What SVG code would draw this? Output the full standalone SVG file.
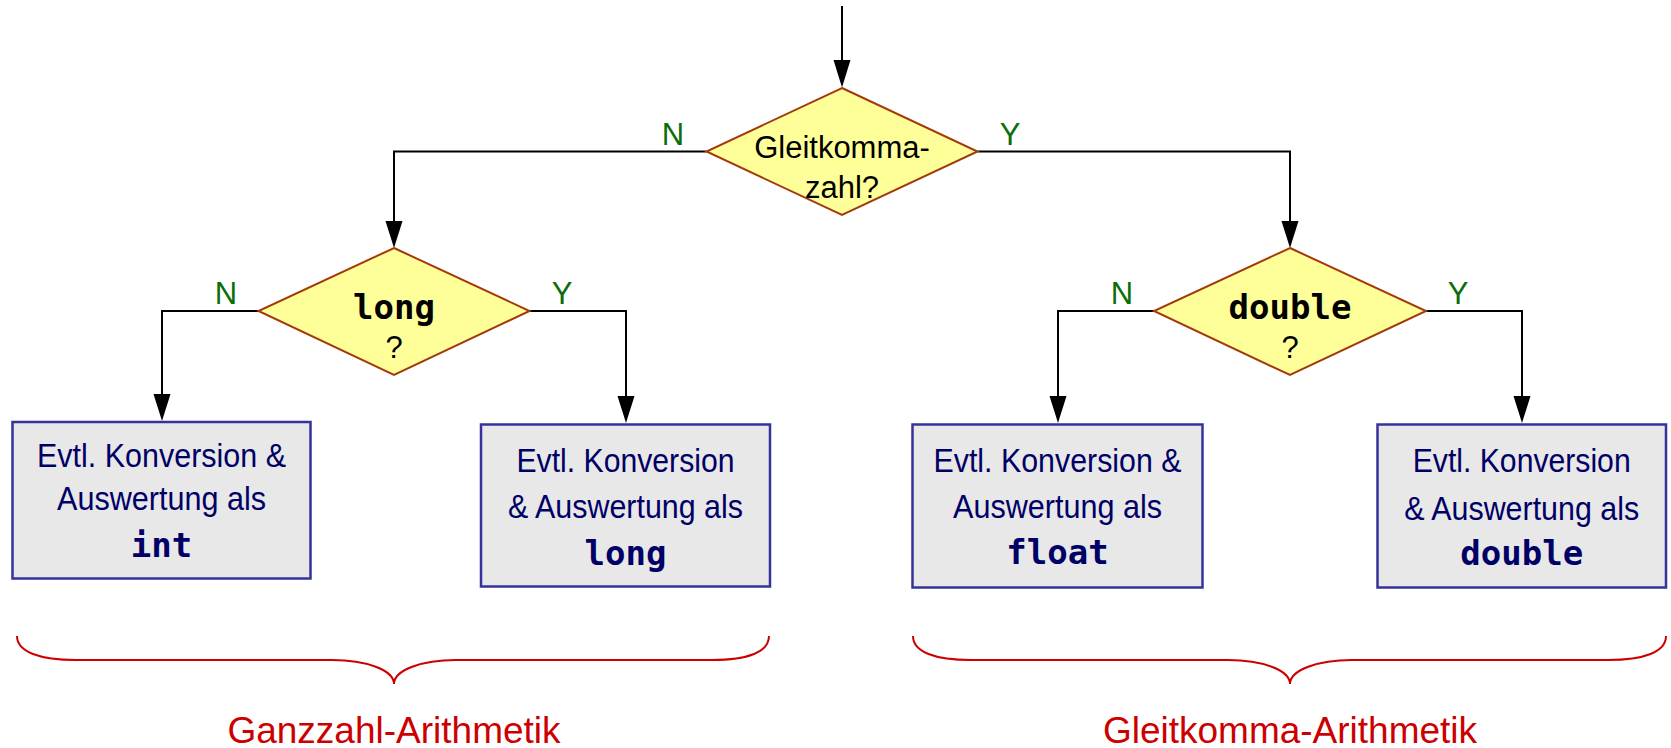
<svg xmlns="http://www.w3.org/2000/svg" width="1671" height="748" viewBox="0 0 1671 748">
<defs>
<style>
.conn{fill:none;stroke:#000;stroke-width:2}
.dia{fill:#ffff99;stroke:#a33a0a;stroke-width:2}
.box{fill:#e8e8e8;stroke:#333399;stroke-width:2.5}
.t{font-family:"Liberation Sans",Arial,sans-serif;text-anchor:middle}
.dt{font-size:31px;fill:#000}
.bt{font-size:32.5px;fill:#000066}
.mono{font-family:"DejaVu Sans Mono","Liberation Mono",monospace;font-weight:bold;font-size:34px;text-anchor:middle}
.lbl{font-family:"Liberation Sans",Arial,sans-serif;font-size:31px;fill:#0a6e0a;text-anchor:middle}
.brace{fill:none;stroke:#cc0000;stroke-width:2}
.red{font-family:"Liberation Sans",Arial,sans-serif;font-size:37px;fill:#cc0000;text-anchor:middle}
</style>
</defs>

<g id="connectors">
<line class="conn" x1="842" y1="6" x2="842" y2="60"/>
<path d="M842,60 l-8.5,0 8.5,27.5 8.5,-27.5 z" fill="#000"/>
<path class="conn" d="M706.5,151.5 H394 V221"/>
<path d="M394,221 l-8.5,0 8.5,27 8.5,-27 z" fill="#000"/>
<path class="conn" d="M977.5,151.5 H1290 V221"/>
<path d="M1290,221 l-8.5,0 8.5,27 8.5,-27 z" fill="#000"/>
<path class="conn" d="M258.5,311 H162 V394"/>
<path d="M162,394 l-8.5,0 8.5,27 8.5,-27 z" fill="#000"/>
<path class="conn" d="M529.5,311 H626 V396"/>
<path d="M626,396 l-8.5,0 8.5,27 8.5,-27 z" fill="#000"/>
<path class="conn" d="M1154,311 H1058 V396"/>
<path d="M1058,396 l-8.5,0 8.5,27 8.5,-27 z" fill="#000"/>
<path class="conn" d="M1426,311 H1522 V396"/>
<path d="M1522,396 l-8.5,0 8.5,27 8.5,-27 z" fill="#000"/>
<text class="lbl" x="673" y="145">N</text>
<text class="lbl" x="1010" y="145">Y</text>
<text class="lbl" x="226" y="304">N</text>
<text class="lbl" x="562" y="304">Y</text>
<text class="lbl" x="1122" y="304">N</text>
<text class="lbl" x="1458" y="304">Y</text>
</g>

<g id="decision-gleitkomma">
<polygon class="dia" points="842,88 977.5,151.5 842,215 706.5,151.5"/>
<text class="t dt" x="842" y="158">Gleitkomma-</text>
<text class="t dt" x="842" y="198">zahl?</text>
</g>

<g id="decision-long">
<polygon class="dia" points="394,248 529.5,311 394,375 258.5,311"/>
<text class="mono" x="394" y="319" fill="#000">long</text>
<text class="t dt" x="394" y="358">?</text>
</g>

<g id="decision-double">
<polygon class="dia" points="1290,248 1426,311 1290,375 1154,311"/>
<text class="mono" x="1290" y="319" fill="#000">double</text>
<text class="t dt" x="1290" y="358">?</text>
</g>

<g id="box-int">
<rect class="box" x="12.5" y="422" width="298" height="156.5"/>
<text class="t bt" x="161.5" y="467" textLength="249" lengthAdjust="spacingAndGlyphs">Evtl. Konversion &amp;</text>
<text class="t bt" x="161.5" y="510" textLength="209" lengthAdjust="spacingAndGlyphs">Auswertung als</text>
<text class="mono" x="161.5" y="557" fill="#000066">int</text>
</g>

<g id="box-long">
<rect class="box" x="481" y="424.5" width="289" height="162"/>
<text class="t bt" x="625.5" y="472" textLength="218" lengthAdjust="spacingAndGlyphs">Evtl. Konversion</text>
<text class="t bt" x="625.5" y="518" textLength="235" lengthAdjust="spacingAndGlyphs">&amp; Auswertung als</text>
<text class="mono" x="625.5" y="565" fill="#000066">long</text>
</g>

<g id="box-float">
<rect class="box" x="912.5" y="424.5" width="290" height="163"/>
<text class="t bt" x="1057.5" y="472" textLength="248" lengthAdjust="spacingAndGlyphs">Evtl. Konversion &amp;</text>
<text class="t bt" x="1057.5" y="518" textLength="209" lengthAdjust="spacingAndGlyphs">Auswertung als</text>
<text class="mono" x="1057.5" y="564" fill="#000066">float</text>
</g>

<g id="box-double">
<rect class="box" x="1377.5" y="424.5" width="288.5" height="163"/>
<text class="t bt" x="1521.7" y="472" textLength="218" lengthAdjust="spacingAndGlyphs">Evtl. Konversion</text>
<text class="t bt" x="1521.7" y="520" textLength="235" lengthAdjust="spacingAndGlyphs">&amp; Auswertung als</text>
<text class="mono" x="1521.7" y="565" fill="#000066">double</text>
</g>

<g id="brace-ganzzahl">
<path class="brace" d="M17,636 C17,652 40,660 76,660 L332,660 C366,660 394,670 394,684 C394,670 422,660 456,660 L712,660 C748,660 769,652 769,636"/>
<text class="red" x="394" y="743">Ganzzahl-Arithmetik</text>
</g>

<g id="brace-gleitkomma">
<path class="brace" d="M913,636 C913,652 935,660 971,660 L1228,660 C1262,660 1290,670 1290,684 C1290,670 1318,660 1352,660 L1608,660 C1644,660 1666,652 1666,636"/>
<text class="red" x="1290" y="743">Gleitkomma-Arithmetik</text>
</g>
</svg>
